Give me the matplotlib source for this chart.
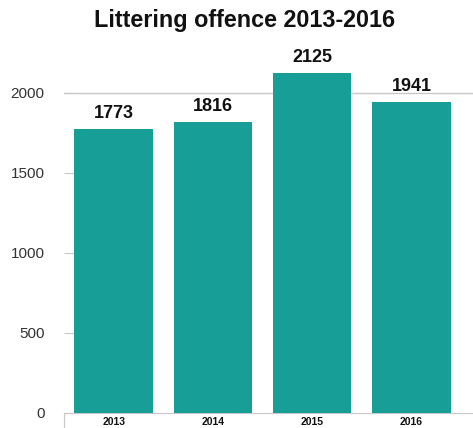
import matplotlib.pyplot as plt

plt.rcParams['font.family'] = ['Liberation Sans', 'DejaVu Sans']

years = ['2013', '2014', '2015', '2016']
offences = [1773, 1816, 2125, 1941]
y_ticks = [0, 500, 1000, 1500, 2000]

bar_color = '#179f97'
grid_color = '#c8c8c8'

fig = plt.figure(figsize=(4.73, 4.28), dpi=100)
ax = fig.add_axes([64 / 473, 15 / 428, 409 / 473, 352 / 428])

x = range(len(years))
bars = ax.bar(x, offences, width=0.79, color=bar_color, zorder=3)

# only the top gridline is drawn in the original
ax.axhline(2000, color=grid_color, lw=1, zorder=1)

for b, v in zip(bars, offences):
    ax.annotate(str(v), (b.get_x() + b.get_width() / 2, v), xytext=(0, 5),
                textcoords='offset points', ha='center', va='bottom',
                fontsize=13, fontweight='bold', color='#111111', clip_on=False)

ax.set_xlim(-0.5, 3.62)
ax.set_ylim(0, 2200)
ax.set_yticks(y_ticks)
ax.set_xticks(list(x))
ax.set_xticklabels(years, fontsize=7.5, fontweight='bold', color='#111111')
ax.set_xticks([-0.5], minor=True)

ax.tick_params(axis='y', direction='in', length=7, width=0.8, color=grid_color,
               labelsize=11, labelcolor='#333333', pad=14)
ax.tick_params(axis='x', which='major', length=0, pad=3)
ax.tick_params(axis='x', which='minor', direction='out', length=11, width=0.8,
               color=grid_color)

for s in ['top', 'right', 'left']:
    ax.spines[s].set_visible(False)
ax.spines['bottom'].set_color(grid_color)
ax.spines['bottom'].set_linewidth(0.8)

fig.text(0.518, 0.953, 'Littering offence 2013-2016', ha='center', va='center',
         fontsize=16.8, fontweight='bold', color='#111111')

fig.savefig('out.png', dpi=100)
